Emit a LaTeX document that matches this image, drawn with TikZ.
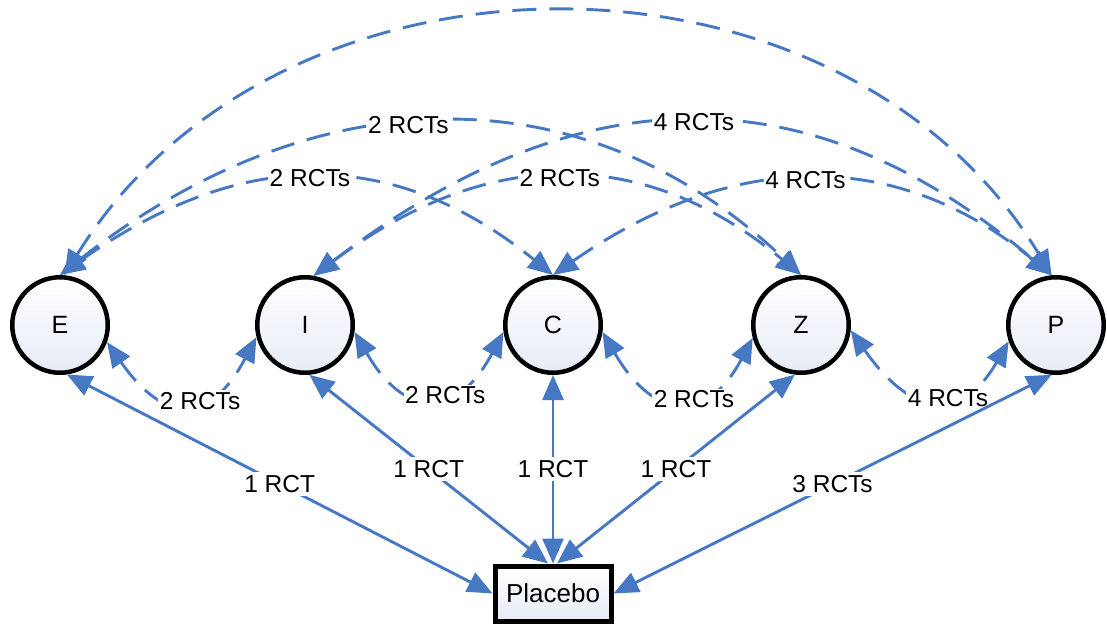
\documentclass[tikz,border=0pt]{standalone}
\usepackage{fontspec}
\setmainfont{Liberation Sans}
\usetikzlibrary{arrows.meta}
\definecolor{edgeblue}{RGB}{70,120,196}
\definecolor{nodefill}{RGB}{230,236,247}
\begin{document}
\begin{tikzpicture}[x=1pt,y=1pt,
  trt/.style={circle, draw=black, line width=4.5pt, top color=white, bottom color=nodefill, minimum size=95.5pt, inner sep=0pt, font=\fontsize{25}{28}\selectfont},
  plc/.style={rectangle, draw=black, line width=5pt, top color=white, bottom color=nodefill, minimum width=116pt, minimum height=55pt, inner sep=0pt, font=\fontsize{26}{29}\selectfont},
  conn/.style={draw=edgeblue, line width=2.9pt, {Triangle[length=25pt,width=21pt]}-{Triangle[length=25pt,width=21pt]}},
  dconn/.style={conn, dash pattern=on 24pt off 13pt},
  lbl/.style={fill=white, inner sep=1.5pt, text=black, font=\fontsize{24.5}{27}\selectfont},
  slbl/.style={lbl, inner sep=3.5pt}
]
\useasboundingbox[fill=white] (0,0) rectangle (1107,625);

\node[trt] (E) at (60,300) {E};
\node[trt] (I) at (305,300) {I};
\node[trt] (C) at (553,300) {C};
\node[trt] (Z) at (801,300) {Z};
\node[trt] (P) at (1056,300) {P};
\node[plc] (Pl) at (553,31.5) {Placebo};

% top dashed arcs
\draw[dconn] (E.85) .. controls (280,698) and (841,698) .. (P.95);
\draw[dconn] (E.north) .. controls (306,543) and (577,562) .. node[lbl,pos=0.46]{2 RCTs} (Z.north);
\draw[dconn] (E.north) .. controls (235,473.5) and (387,484) .. node[lbl,pos=0.5]{2 RCTs} (C.north);
\draw[dconn] (I.80) .. controls (573,546) and (803,561) .. node[lbl,pos=0.51]{4 RCTs} (P.95);
\draw[dconn] (I.80) .. controls (482,475.5) and (639,484) .. node[lbl,pos=0.5]{2 RCTs} (Z.north);
\draw[dconn] (C.north) .. controls (724,469) and (889,484) .. node[lbl,pos=0.5]{4 RCTs} (P.95);

% bottom dashed arcs between neighbours
\draw[dconn] (E.-20) to[out=-55,in=-118,distance=100pt] node[lbl,pos=0.6]{2 RCTs} (I.194);
\draw[dconn] (I.-8) to[out=-60,in=-118,distance=100pt] node[lbl,pos=0.6]{2 RCTs} (C.188);
\draw[dconn] (C.-8) to[out=-60,in=-118,distance=100pt] node[lbl,pos=0.6]{2 RCTs} (Z.195);
\draw[dconn] (Z.-6) to[out=-55,in=-120,distance=100pt] node[lbl,pos=0.6]{4 RCTs} (P.199);

% solid connections to placebo
\draw[conn] (E.-82) -- node[slbl]{1 RCT} (Pl.west);
\draw[conn] (I.-85) -- node[slbl]{1 RCT} ([xshift=-5pt]Pl.north);
\draw[conn] (C.south) -- node[slbl]{1 RCT} (Pl.north);
\draw[conn] (Z.-97) -- node[slbl]{1 RCT} ([xshift=4pt]Pl.north);
\draw[conn] (P.-95) -- node[slbl]{3 RCTs} (Pl.east);
\end{tikzpicture}
\end{document}
